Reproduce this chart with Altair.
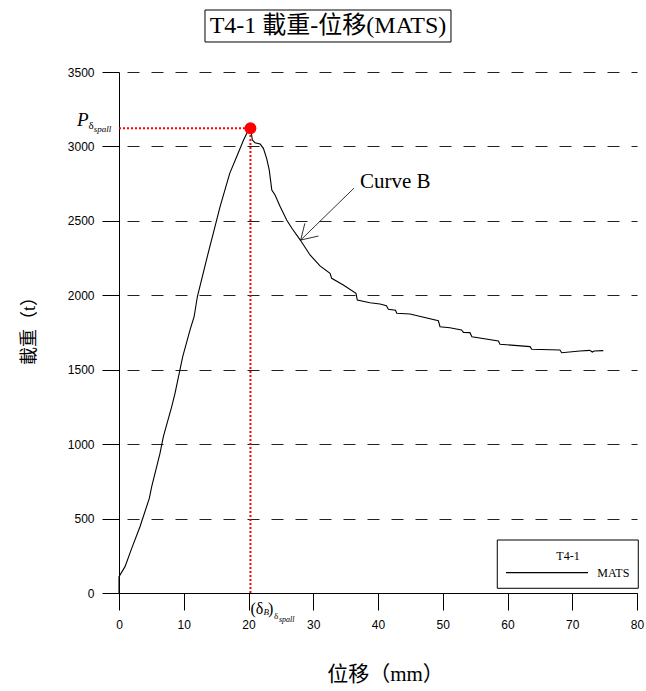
import altair as alt
import pandas as pd

# ---- data ----
disp_mm = [0, 0, 0.93, 1.96, 3.24, 4.68, 5.05, 6.33, 6.85, 8.13, 8.65, 9.83, 10.96, 11.6,
           12.1, 13.5, 15.08, 15.6, 17.1, 18.17, 19.22, 20.1, 20.3, 20.6, 21.0, 21.8,
           22.3, 22.8, 23.2, 23.6, 24.1, 24.9, 25.9, 26.7, 28.0, 29.5, 31.04, 32.59,
           32.85, 34.64, 36.6, 36.8, 38.76, 40.31, 41.3, 41.6, 42.7, 42.9, 44.94,
           49.32, 49.58, 51.1, 52.9, 53.2, 54.2, 54.5, 58.6, 58.84, 63.48, 63.74,
           68.1, 68.37, 71.2, 72.7, 73.1, 73.4, 74.8]
load_t = [0, 110, 177, 300, 445, 636, 714, 938, 1050, 1251, 1341, 1587, 1766, 1856,
          1990, 2237, 2505, 2594, 2819, 2931, 3042, 3121, 3125, 3043, 3025, 3016,
          2987, 2920, 2842, 2707, 2674, 2595, 2506, 2450, 2371, 2271, 2197, 2148,
          2114, 2069, 2013, 1968, 1950, 1941, 1930, 1906, 1900, 1879, 1874,
          1829, 1789, 1782, 1767, 1751, 1749, 1722, 1693, 1671, 1655, 1637,
          1632, 1614, 1626, 1630, 1619, 1626, 1628]

peak_x = [20.3]
peak_y = [3122]

x_ticks = [0, 10, 20, 30, 40, 50, 60, 70, 80]
y_ticks = [0, 500, 1000, 1500, 2000, 2500, 3000, 3500]

title_text = ["T4-1 載重-位移(MATS)"]
x_title = "位移（mm）"
y_title = "載重（t）"

# annotation text pieces (data units)
ann_norm_text = ["δ", "(δ", ")", "δ"]
ann_norm_x = [-4.7, 20.31, 23.0, 23.94]
ann_norm_y = [3117, -141, -141, -175]
ann_norm_size = [11, 16, 16, 9]

ann_ital_text = ["P", "spall", "B", "spall"]
ann_ital_x = [-6.49, -3.9, 22.32, 24.71]
ann_ital_y = [3137, 3097, -148, -195]
ann_ital_size = [19, 9, 9, 8]

curveB_label = ["Curve B"]
curveB_pos = [37.22, 2721]
arrow_x = [36.3, 28.06, 28.06]
arrow_y = [2720, 2371, 2371]
arrow_x2 = [28.06, 28.7, 30.8]
arrow_y2 = [2371, 2483, 2398]

title_box = [13.28, 51.27, 3701.6, 3916.5]
title_pos = [32.28, 3806]

legend_box = [58.42, 80.2, 31.6, 356.0]
legend_line = [59.77, 72.43, 136.4]
legend_title = ["T4-1"]
legend_title_pos = [69.34, 248.6]
legend_series = ["MATS"]
legend_series_pos = [73.87, 134.4]

SERIF = "Liberation Serif, Noto Sans CJK TC"
SANS = "Liberation Sans"

xs = alt.Scale(domain=[0, 80], nice=False, zero=False)
ys = alt.Scale(domain=[0, 3500], nice=False, zero=False)
x_axis = alt.Axis(values=x_ticks, title=x_title, tickSize=17, labelPadding=9,
                  grid=False, titlePadding=33, labelFlush=False, format="d", titleX=266)
y_axis = alt.Axis(values=y_ticks, title=y_title, tickSize=17, labelPadding=8,
                  grid=True, gridDash=[12, 12], gridDashOffset=16,
                  gridColor="#222222", gridWidth=1.2, titlePadding=29,
                  labelFlush=False, format="d", titleY=254)


def X(f):
    return alt.X(f, scale=xs, axis=x_axis)


def Y(f):
    return alt.Y(f, scale=ys, axis=y_axis)


curve_df = pd.DataFrame({"x": disp_mm, "y": load_t, "order": list(range(len(disp_mm)))})
curve = alt.Chart(curve_df).mark_line(color="black", strokeWidth=1.1, clip=False).encode(
    x=X("x:Q"), y=Y("y:Q"), order="order:O")

peak_df = pd.DataFrame({"x": peak_x, "y": peak_y, "x0": [0], "y0": [0]})
hline = alt.Chart(peak_df).mark_rule(color="#ff0000", strokeWidth=2, strokeDash=[2, 2]).encode(
    x=X("x0:Q"), x2="x:Q", y=Y("y:Q"))
vline = alt.Chart(peak_df).mark_rule(color="#ff0000", strokeWidth=2, strokeDash=[2, 2]).encode(
    x=X("x:Q"), y=Y("y0:Q"), y2="y:Q")
peak = alt.Chart(peak_df).mark_circle(color="#ff0000", size=140, opacity=1).encode(
    x=X("x:Q"), y=Y("y:Q"))

norm_df = pd.DataFrame({"t": ann_norm_text, "x": ann_norm_x, "y": ann_norm_y, "s": ann_norm_size})
ital_df = pd.DataFrame({"t": ann_ital_text, "x": ann_ital_x, "y": ann_ital_y, "s": ann_ital_size})
ann_norm = alt.Chart(norm_df).mark_text(font="Liberation Serif", align="left", baseline="alphabetic",
                                        color="black").encode(
    x=X("x:Q"), y=Y("y:Q"), text="t:N", size=alt.Size("s:Q", scale=None, legend=None))
ann_ital = alt.Chart(ital_df).mark_text(font="Liberation Serif", fontStyle="italic", align="left",
                                        baseline="alphabetic", color="black").encode(
    x=X("x:Q"), y=Y("y:Q"), text="t:N", size=alt.Size("s:Q", scale=None, legend=None))

cb_df = pd.DataFrame({"t": curveB_label, "x": [curveB_pos[0]], "y": [curveB_pos[1]]})
cb_text = alt.Chart(cb_df).mark_text(font="Liberation Serif", fontSize=21, align="left",
                                     baseline="alphabetic", color="black").encode(
    x=X("x:Q"), y=Y("y:Q"), text="t:N")
arrow_df = pd.DataFrame({"x": arrow_x, "y": arrow_y, "x2": arrow_x2, "y2": arrow_y2})
arrow = alt.Chart(arrow_df).mark_rule(color="black", strokeWidth=0.8).encode(
    x=X("x:Q"), y=Y("y:Q"), x2="x2:Q", y2="y2:Q")

tb_df = pd.DataFrame({"x": [title_box[0]], "x2": [title_box[1]], "y": [title_box[2]], "y2": [title_box[3]]})
tbox = alt.Chart(tb_df).mark_rect(fill="white", stroke="black", strokeWidth=1, clip=False).encode(
    x=X("x:Q"), x2="x2:Q", y=Y("y:Q"), y2="y2:Q")
tt_df = pd.DataFrame({"t": title_text, "x": [title_pos[0]], "y": [title_pos[1]]})
ttext = alt.Chart(tt_df).mark_text(font=SERIF, fontSize=24, align="center", baseline="middle",
                                   color="black").encode(x=X("x:Q"), y=Y("y:Q"), text="t:N")

lb_df = pd.DataFrame({"x": [legend_box[0]], "x2": [legend_box[1]], "y": [legend_box[2]], "y2": [legend_box[3]]})
lbox = alt.Chart(lb_df).mark_rect(fill="white", stroke="black", strokeWidth=1).encode(
    x=X("x:Q"), x2="x2:Q", y=Y("y:Q"), y2="y2:Q")
ll_df = pd.DataFrame({"x": [legend_line[0]], "x2": [legend_line[1]], "y": [legend_line[2]]})
lline = alt.Chart(ll_df).mark_rule(color="black", strokeWidth=1.2).encode(
    x=X("x:Q"), x2="x2:Q", y=Y("y:Q"))
lt_df = pd.DataFrame({"t": legend_title, "x": [legend_title_pos[0]], "y": [legend_title_pos[1]]})
ltitle = alt.Chart(lt_df).mark_text(font="Liberation Serif", fontSize=12, align="center",
                                    baseline="middle", color="black").encode(
    x=X("x:Q"), y=Y("y:Q"), text="t:N")
ls_df = pd.DataFrame({"t": legend_series, "x": [legend_series_pos[0]], "y": [legend_series_pos[1]]})
lser = alt.Chart(ls_df).mark_text(font="Liberation Serif", fontSize=12, align="left",
                                  baseline="middle", color="black").encode(
    x=X("x:Q"), y=Y("y:Q"), text="t:N")

chart = alt.layer(
    curve, hline, vline, peak, ann_norm, ann_ital, arrow, cb_text,
    tbox, ttext, lbox, lline, ltitle, lser
).properties(
    width=518, height=521,
    autosize=alt.AutoSizeParams(type="none"),
    padding={"left": 119, "top": 72, "right": 9, "bottom": 98},
).configure_view(stroke=None).configure_axis(
    domainColor="black", tickColor="black", labelColor="black", titleColor="black",
    labelFont=SANS, labelFontSize=12, titleFont=SERIF, titleFontSize=21,
    titleFontWeight="normal",
).configure_axisY(titleFontSize=18, titleAngle=-90)

chart.save("out.html", embed_options={"renderer": "svg", "actions": False})
